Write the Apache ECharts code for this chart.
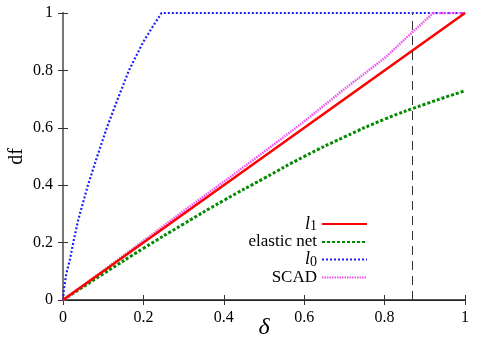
<!DOCTYPE html>
<html>
<head>
<meta charset="utf-8">
<script src="https://cdn.jsdelivr.net/npm/echarts@6/dist/echarts.min.js"></script>
<style>
  html, body { margin: 0; padding: 0; background: #fff; }
  #chart { width: 485px; height: 344px; }
</style>
</head>
<body>
<div id="chart"></div>
<script>
// values
const l1Delta = [0, 1]
const l1Df = [0, 1]

const enDelta = [0, 0.1, 0.2, 0.3, 0.4, 0.5, 0.6, 0.7, 0.8, 0.9, 1]
const enDf = [0, 0.091, 0.18, 0.265, 0.347, 0.424, 0.5, 0.568, 0.63, 0.682, 0.729]

const l0Delta = [0, 0.002, 0.008, 0.017, 0.027, 0.038, 0.05, 0.062, 0.085, 0.109, 0.136, 0.164, 0.182, 0.2, 0.222, 0.245, 1]
const l0Df = [0, 0.035, 0.09, 0.14, 0.21, 0.28, 0.34, 0.4, 0.5, 0.6, 0.7, 0.8, 0.85, 0.9, 0.95, 1, 1]

const scadDelta = [0, 0.1, 0.2, 0.3, 0.4, 0.5, 0.6, 0.7, 0.8, 0.866, 0.921, 1]
const scadDf = [0, 0.102, 0.206, 0.31, 0.412, 0.516, 0.622, 0.735, 0.843, 0.929, 1, 1]

const cutDelta = 0.866
const xTicks = [0, 0.2, 0.4, 0.6, 0.8, 1]
const yTicks = [0, 0.2, 0.4, 0.6, 0.8, 1]

const zip = (xs, ys) => xs.map((x, i) => [x, ys[i]])

const serif = 'Liberation Serif, Times New Roman, serif'
const chart = echarts.init(document.getElementById('chart'))

const axisBase = {
  type: 'value',
  min: 0,
  max: 1,
  interval: 0.2,
  splitLine: { show: false },
  axisTick: { inside: true, length: 5, lineStyle: { color: '#333' } }
}

const option = {
  animation: false,
  grid: { left: 63, right: 20, top: 13, bottom: 44, outerBoundsMode: 'none' },
  legend: {
    orient: 'vertical',
    align: 'right',
    right: 112,
    top: 210,
    itemWidth: 45,
    itemHeight: 12,
    itemGap: 0,
    selectedMode: false,
    itemStyle: { opacity: 0 },
    textStyle: {
      fontFamily: serif,
      fontSize: 17,
      color: '#000',
      rich: {
        i: { fontFamily: serif, fontStyle: 'italic', fontSize: 18, color: '#000' },
        s: { fontFamily: serif, fontSize: 14, color: '#000', padding: [5, 0, 0, 0] }
      }
    },
    formatter: name => {
      if (name === 'l1') return '{i|l}{s|1}'
      if (name === 'l0') return '{i|l}{s|0}'
      return name
    }
  },
  xAxis: [
    {
      ...axisBase,
      position: 'bottom',
      name: 'δ',
      nameLocation: 'middle',
      nameGap: 16,
      nameMoveOverlap: false,
      nameTextStyle: { fontFamily: serif, fontStyle: 'italic', fontSize: 24, color: '#000' },
      axisLine: { lineStyle: { color: '#222', width: 1.5 } },
      axisLabel: {
        fontFamily: serif, fontSize: 16, color: '#000', margin: 10,
        formatter: v => (xTicks.includes(v) ? String(v) : '')
      }
    },
    {
      ...axisBase,
      position: 'top',
      axisLine: { lineStyle: { color: '#222', width: 1 } },
      axisLabel: { show: false }
    }
  ],
  yAxis: [
    {
      ...axisBase,
      position: 'left',
      name: 'df',
      nameLocation: 'middle',
      nameGap: 36,
      nameMoveOverlap: false,
      nameRotate: 90,
      nameTextStyle: { fontFamily: serif, fontSize: 20, color: '#000' },
      axisLine: { lineStyle: { color: '#888', width: 2 } },
      axisLabel: {
        fontFamily: serif, fontSize: 16, color: '#000', margin: 10,
        formatter: v => (yTicks.includes(v) ? String(v) : '')
      }
    },
    {
      ...axisBase,
      position: 'right',
      axisLine: { lineStyle: { color: '#777', width: 2 } },
      axisLabel: { show: false }
    }
  ],
  series: [
    {
      name: 'l1',
      type: 'line',
      symbol: 'none',
      data: zip(l1Delta, l1Df),
      lineStyle: { color: '#ff0000', width: 2.5 },
      itemStyle: { color: '#ff0000' },
      z: 4,
      markLine: {
        silent: true,
        symbol: 'none',
        label: { show: false },
        lineStyle: { color: '#333', width: 1, type: [9, 6] },
        data: [{ xAxis: cutDelta }]
      }
    },
    {
      name: 'elastic net',
      type: 'line',
      symbol: 'none',
      smooth: true,
      data: zip(enDelta, enDf),
      lineStyle: { color: '#008a00', width: 3, type: [3, 2] },
      itemStyle: { color: '#008a00' }
    },
    {
      name: 'l0',
      type: 'line',
      symbol: 'none',
      data: zip(l0Delta, l0Df),
      lineStyle: { color: '#1f1fff', width: 2.2, type: [2, 2] },
      itemStyle: { color: '#1f1fff' }
    },
    {
      name: 'SCAD',
      type: 'line',
      symbol: 'none',
      data: zip(scadDelta, scadDf),
      lineStyle: { color: '#ee55ee', width: 2.5, type: [1.5, 1] },
      itemStyle: { color: '#ee55ee' },
      z: 3
    }
  ]
}

chart.setOption(option)
window.addEventListener('resize', () => chart.resize())
</script>
</body>
</html>
